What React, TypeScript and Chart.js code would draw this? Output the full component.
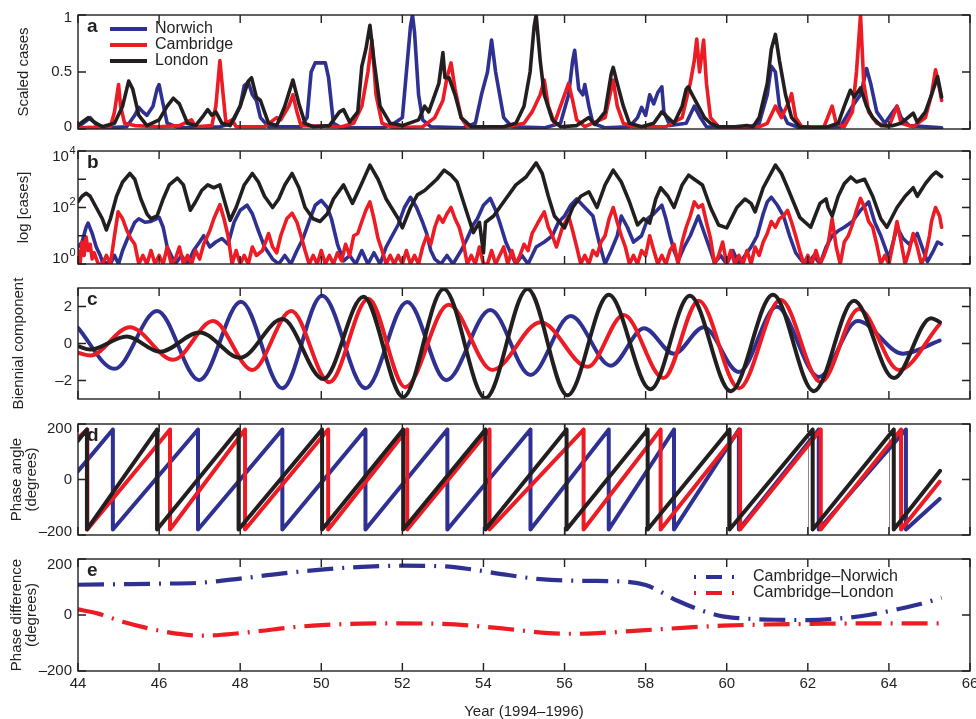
import React, { useEffect, useRef } from "react";
import { Chart, registerables } from "chart.js";

Chart.register(...registerables);

const BLUE = "#2E3192";
const RED = "#ED1C24";
const BLACK = "#231F20";
const FONT = "'Liberation Sans', Arial, Helvetica, sans-serif";

type P = [number, number];

const yearTicks = [44, 46, 48, 50, 52, 54, 56, 58, 60, 62, 64, 66];
const xTitle = "Year (1994–1996)";
const cityNames = ["Norwich", "Cambridge", "London"];
const diffNames = ["Cambridge–Norwich", "Cambridge–London"];

// ---------- panel a: scaled cases ----------
const norwichScaled: P[] = [
  [44.0,0.02],[44.2,0.07],[44.3,0.1],[44.45,0.04],[44.7,0.01],[45.2,0.02],[45.4,0.12],[45.5,0.19],[45.6,0.15],[45.7,0.12],
  [45.85,0.2],[45.95,0.35],[46.0,0.39],[46.08,0.25],[46.2,0.05],[46.5,0.01],[47.5,0.02],[47.8,0.05],[48.0,0.2],[48.1,0.38],
  [48.2,0.41],[48.3,0.3],[48.4,0.25],[48.5,0.1],[48.7,0.02],[49.5,0.02],[49.65,0.1],[49.75,0.5],[49.85,0.58],[50.0,0.58],
  [50.1,0.58],[50.18,0.45],[50.3,0.05],[50.5,0.01],[51.5,0.01],[51.8,0.05],[52.0,0.1],[52.1,0.5],[52.2,0.9],[52.25,1.0],
  [52.3,0.85],[52.4,0.3],[52.5,0.08],[52.7,0.02],[53.5,0.01],[53.8,0.05],[53.95,0.3],[54.1,0.5],[54.2,0.78],[54.3,0.5],
  [54.4,0.3],[54.5,0.1],[54.7,0.02],[55.5,0.01],[55.9,0.05],[56.1,0.3],[56.2,0.6],[56.25,0.69],[56.35,0.35],[56.45,0.3],
  [56.5,0.39],[56.6,0.2],[56.7,0.05],[57.0,0.01],[57.6,0.02],[57.8,0.1],[57.9,0.19],[58.0,0.12],[58.1,0.3],[58.2,0.22],
  [58.3,0.32],[58.4,0.37],[58.45,0.15],[58.6,0.03],[59.0,0.05],[59.2,0.2],[59.35,0.1],[59.5,0.02],[60.5,0.01],[60.8,0.05],
  [61.0,0.3],[61.1,0.55],[61.2,0.5],[61.3,0.2],[61.5,0.05],[61.8,0.01],[62.8,0.02],[63.1,0.2],[63.3,0.3],[63.45,0.53],
  [63.55,0.4],[63.7,0.15],[63.9,0.05],[64.1,0.15],[64.2,0.2],[64.3,0.1],[64.5,0.03],[65.3,0.01],
];
const cambridgeScaled: P[] = [
  [44.0,0.01],[44.8,0.02],[44.9,0.15],[45.0,0.39],[45.05,0.2],[45.15,0.05],[45.4,0.03],[46.0,0.02],[46.5,0.03],[46.8,0.08],
  [46.9,0.02],[47.3,0.03],[47.4,0.2],[47.5,0.6],[47.58,0.3],[47.65,0.05],[47.8,0.08],[47.9,0.02],[48.6,0.02],[48.9,0.1],
  [49.0,0.08],[49.2,0.2],[49.3,0.3],[49.4,0.15],[49.5,0.03],[50.5,0.02],[50.8,0.05],[51.0,0.2],[51.15,0.5],[51.25,0.78],
  [51.35,0.3],[51.5,0.05],[51.8,0.01],[52.5,0.02],[52.8,0.1],[53.0,0.25],[53.1,0.45],[53.2,0.58],[53.3,0.35],[53.45,0.1],
  [53.6,0.02],[54.6,0.02],[55.0,0.05],[55.2,0.15],[55.4,0.3],[55.5,0.43],[55.6,0.2],[55.75,0.05],[55.9,0.2],[56.0,0.3],
  [56.1,0.4],[56.2,0.25],[56.3,0.08],[56.5,0.02],[57.0,0.1],[57.2,0.43],[57.3,0.2],[57.45,0.05],[57.7,0.02],[58.5,0.02],
  [58.9,0.1],[59.1,0.4],[59.2,0.6],[59.26,0.79],[59.33,0.5],[59.43,0.78],[59.5,0.4],[59.6,0.1],[59.8,0.02],[60.0,0.01],
  [60.8,0.02],[61.0,0.05],[61.2,0.2],[61.35,0.1],[61.55,0.25],[61.6,0.31],[61.7,0.1],[61.85,0.02],[62.4,0.02],[62.6,0.2],
  [62.7,0.05],[62.9,0.02],[63.1,0.15],[63.2,0.5],[63.3,1.0],[63.38,0.4],[63.5,0.15],[63.7,0.05],[64.0,0.02],[64.2,0.2],
  [64.3,0.05],[64.6,0.02],[64.9,0.1],[65.05,0.3],[65.15,0.52],[65.25,0.35],[65.3,0.25],
];
const londonScaled: P[] = [
  [44.0,0.03],[44.1,0.06],[44.25,0.1],[44.4,0.06],[44.6,0.02],[44.9,0.05],[45.1,0.2],[45.25,0.42],[45.35,0.35],[45.5,0.12],
  [45.7,0.03],[46.0,0.08],[46.2,0.2],[46.35,0.27],[46.5,0.22],[46.7,0.05],[46.9,0.03],[47.1,0.12],[47.2,0.17],[47.3,0.12],
  [47.4,0.15],[47.55,0.05],[47.75,0.03],[48.0,0.2],[48.2,0.42],[48.28,0.45],[48.4,0.28],[48.5,0.25],[48.7,0.05],[48.9,0.03],
  [49.1,0.2],[49.3,0.43],[49.45,0.22],[49.6,0.05],[49.8,0.02],[50.2,0.03],[50.45,0.15],[50.55,0.17],[50.7,0.06],[50.9,0.15],
  [51.0,0.55],[51.1,0.7],[51.2,0.91],[51.3,0.6],[51.45,0.2],[51.7,0.05],[52.0,0.03],[52.4,0.08],[52.55,0.2],[52.65,0.15],
  [52.8,0.3],[52.9,0.4],[53.0,0.67],[53.05,0.45],[53.15,0.45],[53.3,0.3],[53.45,0.1],[53.7,0.02],[54.5,0.02],[54.8,0.05],
  [55.0,0.2],[55.15,0.5],[55.25,0.9],[55.3,1.0],[55.4,0.6],[55.5,0.3],[55.7,0.08],[55.9,0.02],[56.3,0.03],[56.6,0.1],
  [56.75,0.04],[57.0,0.15],[57.15,0.48],[57.2,0.54],[57.3,0.4],[57.45,0.2],[57.6,0.05],[57.9,0.02],[58.2,0.05],[58.4,0.15],
  [58.55,0.1],[58.7,0.05],[58.9,0.2],[59.0,0.35],[59.05,0.37],[59.15,0.3],[59.3,0.2],[59.45,0.1],[59.6,0.05],[59.8,0.02],
  [60.2,0.02],[60.5,0.03],[60.65,0.02],[60.8,0.1],[61.0,0.4],[61.1,0.7],[61.2,0.83],[61.3,0.6],[61.45,0.3],[61.6,0.1],
  [61.8,0.02],[62.2,0.01],[62.5,0.02],[62.75,0.05],[62.9,0.2],[63.05,0.34],[63.15,0.28],[63.3,0.36],[63.45,0.2],[63.6,0.1],
  [63.8,0.03],[64.1,0.03],[64.3,0.05],[64.6,0.14],[64.7,0.06],[64.9,0.15],[65.05,0.3],[65.2,0.46],[65.3,0.28],
];

// ---------- panel b: cases (log scale) ----------
const norwichCases: P[] = [
  [44.0,4],[44.1,6],[44.2,20],[44.25,28],[44.35,12],[44.45,4],[44.55,2],[44.6,1.2],[44.8,1],[44.9,2],[45.0,1],[45.1,3],
  [45.25,10],[45.4,30],[45.5,40],[45.65,30],[45.8,32],[46.0,45],[46.1,20],[46.2,4],[46.4,1],[46.55,2],[46.7,1],[46.85,3],
  [47.0,6],[47.1,10],[47.25,4],[47.4,6],[47.55,8],[47.7,5],[47.85,30],[48.0,80],[48.17,120],[48.3,60],[48.45,15],[48.6,4],
  [48.8,1.5],[48.95,1],[49.1,2],[49.25,1],[49.4,3],[49.55,8],[49.7,32],[49.85,120],[50.0,178],[50.15,100],[50.25,40],
  [50.4,5],[50.55,1.3],[50.7,2],[50.85,1],[51.0,3],[51.15,1],[51.3,2.5],[51.45,1],[51.6,4],[51.75,10],[51.9,25],[52.05,100],
  [52.2,230],[52.35,100],[52.5,30],[52.6,12],[52.7,3],[52.8,1.5],[52.95,1],[53.1,2],[53.25,1],[53.45,3],[53.6,8],[53.75,25],
  [53.85,40],[54.0,120],[54.17,210],[54.3,80],[54.4,30],[54.55,6],[54.7,2],[54.8,1],[54.95,2],[55.1,1],[55.3,4],[55.5,6],
  [55.7,10],[55.85,30],[56.0,50],[56.15,120],[56.3,200],[56.5,100],[56.7,50],[56.85,6],[57.0,1],[57.15,3],[57.3,10],
  [57.4,50],[57.55,20],[57.7,6],[57.9,10],[58.05,40],[58.2,60],[58.4,120],[58.5,40],[58.6,10],[58.7,3],[58.8,1.3],[58.95,4],
  [59.1,10],[59.3,50],[59.45,12],[59.6,3],[59.7,1.1],[59.85,2],[60.0,1],[60.15,3],[60.3,1],[60.45,2],[60.6,4],[60.75,10],
  [60.9,60],[61.0,158],[61.1,230],[61.25,120],[61.4,50],[61.55,10],[61.7,2.5],[61.85,1.3],[62.0,1],[62.15,2],[62.3,1],
  [62.45,4],[62.6,10],[62.75,15],[62.9,20],[63.1,32],[63.3,80],[63.5,158],[63.65,30],[63.8,10],[64.0,1.6],[64.2,20],
  [64.35,8],[64.5,5],[64.7,12],[64.85,3],[64.95,1.2],[65.1,3],[65.2,6],[65.3,5],
];
const cambridgeCases: P[] = [
  [44.0,3],[44.05,1],[44.1,6],[44.15,2],[44.2,9],[44.25,3],[44.3,5],[44.35,1.5],[44.4,2.5],[44.5,1],[44.6,1],[44.7,2],
  [44.8,1],[44.9,10],[44.99,70],[45.1,40],[45.2,16],[45.3,8],[45.4,5],[45.5,1],[45.6,2],[45.7,1],[45.8,3],[45.9,1],
  [46.0,2],[46.1,1],[46.2,4],[46.3,1],[46.4,1.5],[46.5,4],[46.6,1],[46.7,2],[46.8,1],[46.9,3],[47.0,1.5],[47.1,5],
  [47.25,15],[47.35,40],[47.5,126],[47.6,40],[47.7,10],[47.8,1],[47.9,3],[48.0,1],[48.1,2],[48.2,1],[48.3,4],[48.4,2],
  [48.55,3],[48.7,12],[48.8,4],[48.9,2.5],[49.0,10],[49.15,40],[49.28,63],[49.4,30],[49.5,10],[49.6,3],[49.7,1],[49.8,2],
  [49.9,1],[50.0,3],[50.1,1],[50.2,2],[50.3,1],[50.4,2.5],[50.5,1.3],[50.6,5],[50.7,2],[50.8,10],[50.9,12],[51.0,32],
  [51.1,80],[51.2,158],[51.3,40],[51.4,8],[51.5,3],[51.6,1],[51.7,2],[51.8,1],[51.9,2],[52.0,1],[52.1,3],[52.2,1],
  [52.3,2],[52.4,1],[52.5,4],[52.6,10],[52.7,5],[52.8,20],[52.9,50],[53.0,30],[53.1,60],[53.2,100],[53.3,40],[53.4,20],
  [53.5,6],[53.6,1],[53.7,2],[53.8,1],[53.9,4],[54.0,1],[54.1,1],[54.2,3],[54.3,1],[54.4,2],[54.5,4],[54.6,1],[54.7,3],
  [54.8,1],[54.9,2],[55.0,5],[55.1,3],[55.2,12],[55.35,30],[55.5,70],[55.6,20],[55.7,10],[55.8,4],[55.95,20],[56.1,50],
  [56.2,15],[56.3,4],[56.4,1],[56.5,2],[56.6,1],[56.7,3],[56.8,2],[56.9,6],[57.0,10],[57.1,40],[57.2,100],[57.3,30],
  [57.4,10],[57.5,4],[57.6,1],[57.7,2],[57.8,1],[57.9,3],[58.0,2],[58.1,10],[58.2,3],[58.3,1],[58.4,2],[58.5,1],[58.6,3],
  [58.7,5],[58.8,1],[58.9,6],[59.0,20],[59.1,50],[59.2,158],[59.3,100],[59.4,126],[59.5,30],[59.6,8],[59.7,1],[59.8,2],
  [59.9,6],[60.0,1],[60.1,3],[60.2,1],[60.3,2],[60.4,1],[60.5,3],[60.6,1],[60.7,4],[60.8,2],[60.9,6],[61.0,12],[61.1,32],
  [61.2,20],[61.3,40],[61.4,50],[61.5,79],[61.6,30],[61.7,10],[61.8,3],[61.9,1],[62.0,2],[62.1,1],[62.2,3],[62.3,1],
  [62.4,2],[62.5,5],[62.6,40],[62.7,4],[62.8,1],[62.9,6],[63.0,10],[63.1,25],[63.2,80],[63.3,210],[63.4,100],[63.5,32],
  [63.6,20],[63.7,5],[63.8,1],[63.9,2],[64.0,1],[64.1,5],[64.2,32],[64.3,6],[64.4,1],[64.5,3],[64.6,12],[64.7,4],[64.8,1],
  [64.9,2],[65.0,10],[65.05,32],[65.15,100],[65.25,50],[65.3,20],
];
const londonCases: P[] = [
  [44.0,160],[44.1,250],[44.2,320],[44.3,250],[44.45,100],[44.6,40],[44.7,16],[44.8,40],[44.95,250],[45.1,800],[45.28,1600],
  [45.4,1000],[45.55,200],[45.7,60],[45.8,40],[45.95,50],[46.1,200],[46.25,630],[46.45,1100],[46.6,630],[46.77,80],
  [46.9,160],[47.05,400],[47.2,630],[47.35,500],[47.5,630],[47.6,200],[47.75,35],[47.9,100],[48.1,630],[48.3,1600],
  [48.45,800],[48.6,250],[48.8,100],[48.95,200],[49.1,630],[49.28,1600],[49.45,500],[49.6,100],[49.8,40],[49.97,32],
  [50.15,60],[50.3,200],[50.55,630],[50.77,140],[50.95,500],[51.2,3162],[51.4,1000],[51.6,200],[51.9,40],[52.0,19],
  [52.2,100],[52.37,280],[52.55,400],[52.7,630],[52.85,1000],[53.03,2100],[53.2,1400],[53.35,800],[53.55,100],[53.75,13],
  [53.9,30],[54.0,2.5],[54.05,30],[54.25,50],[54.5,160],[54.8,630],[55.05,1200],[55.3,3800],[55.45,1600],[55.6,250],
  [55.75,50],[56.0,19],[56.2,100],[56.4,250],[56.6,360],[56.8,100],[57.0,630],[57.2,2100],[57.4,800],[57.6,160],[57.8,24],
  [57.95,40],[58.1,28],[58.25,200],[58.37,500],[58.55,250],[58.7,100],[58.9,630],[59.06,1400],[59.2,1000],[59.4,630],
  [59.6,100],[59.8,24],[60.0,19],[60.25,100],[60.45,200],[60.6,140],[60.7,70],[60.9,500],[61.2,3162],[61.35,1600],
  [61.5,500],[61.65,150],[61.8,45],[62.07,20],[62.3,140],[62.45,200],[62.5,100],[62.6,50],[62.75,250],[62.9,700],
  [63.06,1200],[63.2,800],[63.4,1000],[63.6,250],[63.8,40],[63.95,20],[64.2,100],[64.4,250],[64.6,500],[64.7,250],
  [64.9,700],[65.05,1300],[65.16,1800],[65.3,1250],
];

// ---------- panel c: biennial component (extrema) ----------
const norwichBiennial: P[] = [
  [44.0,0.85],[44.9,-1.37],[45.95,1.76],[46.99,-1.98],[48.02,2.25],[49.04,-2.42],[50.02,2.58],[51.09,-2.42],[52.12,2.25],
  [53.08,-1.98],[54.17,1.81],[55.16,-1.7],[56.15,1.48],[57.14,-1.2],[57.96,0.82],[58.7,-0.55],[59.43,0.88],[60.3,-1.54],
  [61.23,1.98],[62.27,-1.81],[63.23,1.21],[64.35,-0.55],[65.25,0.16],
];
const cambridgeBiennial: P[] = [
  [44.0,-0.5],[44.3,-0.65],[45.28,0.88],[46.35,-0.88],[47.33,1.21],[48.3,-1.43],[49.26,1.76],[50.2,-2.09],[51.16,2.42],
  [52.07,-2.36],[53.14,2.09],[54.22,-1.43],[55.41,1.15],[56.57,-1.26],[57.46,1.54],[58.44,-1.87],[59.31,2.31],[60.3,-2.42],
  [61.33,2.36],[62.32,-2.09],[63.26,1.87],[64.25,-1.43],[65.25,1.04],
];
const londonBiennial: P[] = [
  [44.0,-0.15],[44.3,-0.33],[45.2,0.38],[46.02,-0.44],[47.0,0.6],[48.0,-0.77],[49.04,1.32],[50.05,-1.92],[51.04,2.53],
  [52.02,-2.9],[53.02,2.95],[54.05,-2.95],[55.09,2.95],[56.07,-2.8],[57.09,2.64],[58.12,-2.47],[59.09,2.58],[60.1,-2.58],
  [61.14,2.64],[62.15,-2.58],[63.14,2.31],[64.12,-1.87],[65.04,1.37],[65.26,1.15],
];

// ---------- panel d: phase angle (degrees) ----------
const norwichPhase: P[] = [
  [44.0,30],[44.86,180],[44.86,-180],[46.96,180],[46.96,-180],[49.04,180],[49.04,-180],[51.09,180],[51.09,-180],
  [53.11,180],[53.11,-180],[55.16,180],[55.16,-180],[57.09,180],[57.09,-180],[58.7,180],[58.7,-180],[60.3,180],[60.3,-180],
  [62.27,180],[62.27,-180],[64.42,180],[64.42,-180],[65.25,-70],
];
const cambridgePhase: P[] = [
  [44.0,150],[44.23,180],[44.23,-180],[46.27,180],[46.27,-180],[48.12,180],[48.12,-180],[50.17,180],[50.17,-180],
  [52.12,180],[52.12,-180],[54.15,180],[54.15,-180],[56.47,180],[56.47,-180],[58.37,180],[58.37,-180],[60.33,180],
  [60.33,-180],[62.32,180],[62.32,-180],[64.3,180],[64.3,-180],[65.25,-8],
];
const londonPhase: P[] = [
  [44.0,140],[44.22,180],[44.22,-180],[45.95,180],[45.95,-180],[47.96,180],[47.96,-180],[50.02,180],[50.02,-180],
  [52.02,180],[52.02,-180],[54.05,180],[54.05,-180],[56.05,180],[56.05,-180],[58.05,180],[58.05,-180],[60.07,180],
  [60.07,-180],[62.12,180],[62.12,-180],[64.12,180],[64.12,-180],[65.26,31],
];

// ---------- panel e: phase difference (degrees) ----------
const cambridgeNorwichDiff: P[] = [
  [44.0,108],[45.0,110],[46.0,112],[47.0,115],[48.0,130],[49.0,148],[50.0,162],[51.0,172],[52.0,176],[53.0,174],
  [53.7,163],[54.5,145],[55.4,128],[56.5,122],[57.4,120],[58.0,107],[58.8,50],[59.4,15],[59.9,-5],[60.5,-13],[61.2,-17],
  [62.0,-18],[62.8,-12],[63.5,0],[64.2,20],[64.8,40],[65.3,62],
];
const cambridgeLondonDiff: P[] = [
  [44.0,20],[44.5,5],[45.1,-24],[46.2,-61],[47.1,-74],[47.6,-70],[48.5,-57],[49.2,-45],[50.0,-36],[51.0,-31],[51.9,-30],
  [53.0,-32],[53.7,-38],[54.6,-50],[55.6,-65],[56.3,-67],[56.9,-64],[58.0,-54],[59.0,-45],[59.9,-38],[61.0,-34],
  [62.0,-32],[63.5,-30],[65.3,-30],
];

// ---------- panel definitions ----------
type Series = { data: P[]; color: string; width: number; smooth?: boolean; dash?: number[] };
type YLabel = { v: number; text: string; sup?: string };
type Panel = {
  key: string; letter: string; top: number; bottom: number; canvasTop: number; canvasH: number;
  yType: "linear" | "logarithmic"; yMin: number; yMax: number; yMarks: number[]; yLabels: YLabel[];
  shift: [number, number]; yTitle: string | string[]; titlePad: number; series: Series[];
  showX?: boolean; grid?: boolean;
};

const PANELS: Panel[] = [
  {
    key: "a", letter: "a", top: 15, bottom: 129, canvasTop: 0, canvasH: 141,
    yType: "linear", yMin: 0, yMax: 1, yMarks: [0, 0.5, 1],
    yLabels: [{ v: 0, text: "0" }, { v: 0.5, text: "0.5" }, { v: 1, text: "1" }], shift: [3, -2],
    yTitle: "Scaled cases", titlePad: 16,
    series: [
      { data: londonScaled, color: BLACK, width: 3.6 },
      { data: cambridgeScaled, color: RED, width: 3.6 },
      { data: norwichScaled, color: BLUE, width: 3.6 },
    ],
  },
  {
    key: "b", letter: "b", top: 151, bottom: 264, canvasTop: 139, canvasH: 137,
    yType: "logarithmic", yMin: 1, yMax: 10000, yMarks: [1, 10, 100, 1000, 10000],
    yLabels: [{ v: 1, text: "10", sup: "0" }, { v: 100, text: "10", sup: "2" }, { v: 10000, text: "10", sup: "4" }],
    shift: [6, -5], yTitle: "log [cases]", titlePad: 16,
    series: [
      { data: londonCases, color: BLACK, width: 3.6 },
      { data: cambridgeCases, color: RED, width: 3.6 },
      { data: norwichCases, color: BLUE, width: 3.6 },
    ],
  },
  {
    key: "c", letter: "c", top: 288, bottom: 399, canvasTop: 276, canvasH: 135,
    yType: "linear", yMin: -3, yMax: 3, yMarks: [-2, 0, 2],
    yLabels: [{ v: -2, text: "–2" }, { v: 0, text: "0" }, { v: 2, text: "2" }], shift: [0, 0],
    yTitle: "Biennial component", titlePad: 11,
    series: [
      { data: londonBiennial, color: BLACK, width: 4, smooth: true },
      { data: cambridgeBiennial, color: RED, width: 4, smooth: true },
      { data: norwichBiennial, color: BLUE, width: 4, smooth: true },
    ],
  },
  {
    key: "d", letter: "d", top: 424, bottom: 535, canvasTop: 412, canvasH: 135,
    yType: "linear", yMin: -200, yMax: 200, yMarks: [-200, 0, 200],
    yLabels: [{ v: -200, text: "–200" }, { v: 0, text: "0" }, { v: 200, text: "200" }], shift: [5, -3],
    yTitle: ["Phase angle", "(degrees)"], titlePad: 8.5, grid: true,
    series: [
      { data: londonPhase, color: BLACK, width: 4 },
      { data: cambridgePhase, color: RED, width: 4 },
      { data: norwichPhase, color: BLUE, width: 4 },
    ],
  },
  {
    key: "e", letter: "e", top: 559, bottom: 671, canvasTop: 547, canvasH: 175,
    yType: "linear", yMin: -200, yMax: 200, yMarks: [-200, 0, 200],
    yLabels: [{ v: -200, text: "–200" }, { v: 0, text: "0" }, { v: 200, text: "200" }], shift: [6, 0],
    yTitle: ["Phase difference", "(degrees)"], titlePad: 8.5, showX: true,
    series: [
      { data: cambridgeNorwichDiff, color: BLUE, width: 4.2, smooth: true, dash: [26, 9, 2, 9] },
      { data: cambridgeLondonDiff, color: RED, width: 4.2, smooth: true, dash: [26, 9, 2, 9] },
    ],
  },
];

const TL = 8; // tick length (inward)

function framePlugin(p: Panel) {
  return {
    id: "frame_" + p.key,
    beforeDatasetsDraw(chart: any) {
      if (!p.grid) return;
      const { ctx, chartArea } = chart;
      const xs = chart.scales.x;
      ctx.save();
      ctx.strokeStyle = "#8c8c8c";
      ctx.lineWidth = 1;
      yearTicks.slice(1, -1).forEach((t) => {
        const px = Math.round(xs.getPixelForValue(t)) + 0.5;
        ctx.beginPath();
        ctx.moveTo(px, chartArea.top);
        ctx.lineTo(px, chartArea.bottom);
        ctx.stroke();
      });
      ctx.restore();
    },
    afterDatasetsDraw(chart: any) {
      const { ctx, chartArea } = chart;
      const { left, right, top, bottom } = chartArea;
      const xs = chart.scales.x;
      const ys = chart.scales.y;
      ctx.save();
      ctx.strokeStyle = BLACK;
      ctx.lineWidth = 1.4;
      ctx.setLineDash([]);
      ctx.strokeRect(left, top, right - left, bottom - top);
      ctx.beginPath();
      yearTicks.forEach((t) => {
        const px = xs.getPixelForValue(t);
        ctx.moveTo(px, top); ctx.lineTo(px, top + TL);
        ctx.moveTo(px, bottom); ctx.lineTo(px, bottom - TL);
      });
      p.yMarks.forEach((v) => {
        const py = ys.getPixelForValue(v);
        ctx.moveTo(left, py); ctx.lineTo(left + TL, py);
        ctx.moveTo(right, py); ctx.lineTo(right - TL, py);
      });
      ctx.stroke();

      // y tick labels
      ctx.fillStyle = BLACK;
      ctx.textBaseline = "middle";
      p.yLabels.forEach((lab) => {
        let py = ys.getPixelForValue(lab.v);
        if (lab.v === p.yMax) py += p.shift[0];
        if (lab.v === p.yMin) py += p.shift[1];
        if (lab.sup) {
          ctx.font = `15px ${FONT}`;
          const wb = ctx.measureText(lab.text).width;
          ctx.font = `11px ${FONT}`;
          const ws = ctx.measureText(lab.sup).width;
          const x0 = 75 - wb - ws;
          ctx.textAlign = "left";
          ctx.font = `15px ${FONT}`;
          ctx.fillText(lab.text, x0, py);
          ctx.font = `11px ${FONT}`;
          ctx.fillText(lab.sup, x0 + wb + 0.5, py - 6);
        } else {
          ctx.font = `15px ${FONT}`;
          ctx.textAlign = "right";
          ctx.fillText(lab.text, 72, py);
        }
      });

      // panel letter
      ctx.font = `bold 19px ${FONT}`;
      ctx.textAlign = "left";
      ctx.textBaseline = "alphabetic";
      ctx.fillText(p.letter, 87, top + 17);

      // legends
      if (p.key === "a") {
        const cols = [BLUE, RED, BLACK];
        cityNames.forEach((name, i) => {
          const y = top + 14 + i * 16;
          ctx.strokeStyle = cols[i];
          ctx.lineWidth = 4;
          ctx.beginPath();
          ctx.moveTo(110, y); ctx.lineTo(147, y);
          ctx.stroke();
          ctx.fillStyle = BLACK;
          ctx.font = `16px ${FONT}`;
          ctx.textBaseline = "middle";
          ctx.fillText(name, 155, y);
        });
      }
      if (p.key === "e") {
        const cols = [BLUE, RED];
        diffNames.forEach((name, i) => {
          const y = top + 18 + i * 16;
          ctx.strokeStyle = cols[i];
          ctx.lineWidth = 4;
          ctx.setLineDash([2, 10, 16, 10]);
          ctx.beginPath();
          ctx.moveTo(694, y); ctx.lineTo(736, y);
          ctx.stroke();
          ctx.setLineDash([]);
          ctx.fillStyle = BLACK;
          ctx.font = `16px ${FONT}`;
          ctx.textBaseline = "middle";
          ctx.fillText(name, 753, y);
        });
      }
      ctx.restore();
    },
  };
}

function buildConfig(p: Panel): any {
  const padTop = p.top - p.canvasTop;
  const padBottom = p.showX ? 0 : p.canvasTop + p.canvasH - p.bottom;
  return {
    type: "line",
    data: {
      datasets: p.series.map((s) => ({
        data: s.data.map(([x, y]) => ({ x, y })),
        borderColor: s.color,
        borderWidth: s.width,
        borderDash: s.dash || [],
        borderCapStyle: s.dash ? "butt" : "round",
        borderJoinStyle: "round",
        pointRadius: 0,
        fill: false,
        tension: 0,
        cubicInterpolationMode: s.smooth ? "monotone" : "default",
      })),
    },
    options: {
      responsive: false,
      animation: false,
      events: [],
      layout: { padding: { left: 0, right: 30, top: padTop, bottom: padBottom } },
      plugins: { legend: { display: false }, tooltip: { enabled: false }, title: { display: false } },
      scales: {
        x: {
          type: "linear", min: 44, max: 66, display: !!p.showX,
          grid: { display: false, drawTicks: false }, border: { display: false },
          ticks: {
            stepSize: 2, autoSkip: false, maxRotation: 0, padding: 4, color: BLACK,
            font: { family: FONT, size: 15 }, callback: (v: any) => String(v),
          },
          title: {
            display: !!p.showX, text: xTitle, color: BLACK,
            font: { family: FONT, size: 15 }, padding: { top: 0, bottom: 1 },
          },
          afterFit: (s: any) => { if (p.showX) s.height = p.canvasTop + p.canvasH - p.bottom; },
        },
        y: {
          type: p.yType, min: p.yMin, max: p.yMax,
          grid: { display: false, drawTicks: false }, border: { display: false },
          ticks: { display: false },
          title: {
            display: true, text: p.yTitle, color: BLACK,
            font: { family: FONT, size: 15, lineHeight: 1.05 },
            padding: { top: p.titlePad, bottom: 0 },
          },
          afterFit: (s: any) => { s.width = 78; },
        },
      },
    },
    plugins: [framePlugin(p)],
  };
}

export default function App() {
  const refs = useRef<(HTMLCanvasElement | null)[]>([]);
  useEffect(() => {
    const charts = PANELS.map((p, i) => new Chart(refs.current[i] as HTMLCanvasElement, buildConfig(p)));
    return () => charts.forEach((c) => c.destroy());
  }, []);
  return (
    <div style={{ position: "absolute", left: 0, top: 0, width: 976, height: 719, overflow: "hidden", background: "#fff" }}>
      {PANELS.map((p, i) => (
        <canvas
          key={p.key}
          ref={(el) => { refs.current[i] = el; }}
          width={1000}
          height={p.canvasH}
          style={{ position: "absolute", left: 0, top: p.canvasTop, display: "block" }}
        />
      ))}
    </div>
  );
}
